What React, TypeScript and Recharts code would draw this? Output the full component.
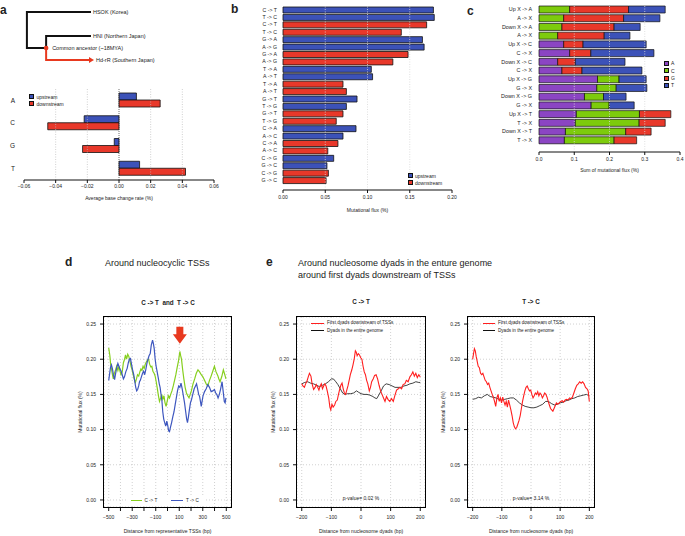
import React from "react";
import {
  Bar,
  BarChart,
  CartesianGrid,
  Cell,
  Line,
  LineChart,
  ReferenceDot,
  ReferenceLine,
  Scatter,
  ScatterChart,
  XAxis,
  YAxis,
} from "recharts";

const FONT = '"Liberation Sans", Arial, Helvetica, sans-serif';
const INK = "#222";
const BLUE = "#3c52b8";
const RED = "#e8382a";
const GREEN = "#7dcb0c";
const PURPLE = "#8b45c3";
const LINE_GREEN = "#86cf1e";
const LINE_BLUE = "#3e57bf";
const LINE_RED = "#ff1f1f";
const GRID = "#bdbdbd";

// panel a: tree (depth from root, row = taxon)
const TREE_MAIN = [
  { depth: 1, row: 0 },
  { depth: 0, row: 0 },
  { depth: 0, row: 1.5 },
  { depth: 0.3, row: 1.5 },
  { depth: 0.3, row: 1 },
  { depth: 1, row: 1 },
];
const TREE_RED = [
  { depth: 0.3, row: 1.5 },
  { depth: 0.3, row: 2 },
  { depth: 1, row: 2 },
];
const TREE_TIPS = [
  { depth: 1, row: 0, name: "HSOK (Korea)" },
  { depth: 1, row: 1, name: "HNI (Northern Japan)" },
];
const TREE_RED_TIP = [{ depth: 1, row: 2, name: "Hd-rR (Southern Japan)" }];
const TREE_ANCESTOR = [{ depth: 0.3, row: 1.5, name: "Common ancestor (~18MYA)" }];

// panel a: average base change
const BASES = ["A", "C", "G", "T"];
const BASE_UP = [0.011, -0.022, -0.003, 0.013];
const BASE_DOWN = [0.026, -0.045, -0.023, 0.042];
const BASE_TICKS = [-0.06, -0.04, -0.02, 0, 0.02, 0.04, 0.06];
const BASE_TICK_LABELS = ["\u22120.06", "\u22120.04", "\u22120.02", "0.00", "0.02", "0.04", "0.06"];

// panel b: mutational flux
const FLUX_LABELS = [
  "C -> T", "T -> C", "C -> T", "T -> C",
  "G -> A", "A -> G", "G -> A", "A -> G",
  "T -> A", "A -> T", "T -> A", "A -> T",
  "G -> T", "T -> G", "G -> T", "T -> G",
  "C -> A", "A -> C", "C -> A", "A -> C",
  "C -> G", "G -> C", "C -> G", "G -> C",
];
const FLUX_VALUES = [
  0.178, 0.179, 0.17, 0.14,
  0.165, 0.167, 0.148, 0.13,
  0.1045, 0.106, 0.071, 0.075,
  0.0876, 0.075, 0.071, 0.063,
  0.0864, 0.071, 0.065, 0.053,
  0.06, 0.052, 0.0537, 0.051,
];
const FLUX_STREAM = ["up", "up", "down", "down"];
const FLUX_TICKS = [0, 0.05, 0.1, 0.15, 0.2];
const FLUX_TICK_LABELS = ["0.00", "0.05", "0.10", "0.15", "0.20"];

// panel c: sum of mutational flux
const SUM_LABELS = [
  "Up X -> A", "A -> X", "Down X -> A", "A -> X",
  "Up X -> C", "C -> X", "Down X -> C", "C -> X",
  "Up X -> G", "G -> X", "Down X -> G", "G -> X",
  "Up X -> T", "T -> X", "Down X -> T", "T -> X",
];
const SUM_A = [0, 0, 0, 0, 0.07, 0.087, 0.053, 0.065, 0.166, 0.164, 0.129, 0.148, 0.106, 0.103, 0.075, 0.072];
const SUM_C = [0.087, 0.07, 0.065, 0.053, 0, 0, 0, 0, 0.061, 0.055, 0.054, 0.051, 0.179, 0.181, 0.171, 0.141];
const SUM_G = [0.167, 0.17, 0.148, 0.132, 0.055, 0.06, 0.05, 0.057, 0, 0, 0, 0, 0.089, 0.074, 0.072, 0.064];
const SUM_T = [0.104, 0.103, 0.074, 0.073, 0.179, 0.179, 0.141, 0.17, 0.077, 0.087, 0.064, 0.071, 0, 0, 0, 0];
const SUM_TICKS = [0, 0.1, 0.2, 0.3, 0.4];
const SUM_TICK_LABELS = ["0.0", "0.1", "0.2", "0.3", "0.4"];

// panels d, e: shared y axis
const FLUX_Y_TICKS = [0, 0.05, 0.1, 0.15, 0.2, 0.25];
const FLUX_Y_LABELS = ["0.00", "0.05", "0.10", "0.15", "0.20", "0.25"];
const FLUX_Y_DOMAIN = [-0.01, 0.26];

// panel d: around nucleocyclic TSSs
const D_X_TICKS = [-500, -400, -300, -200, -100, 0, 100, 200, 300, 400, 500];
const D_X_LABELS = ["\u2212500", "", "\u2212300", "", "\u2212100", "", "100", "", "300", "", "500"];
const D_C_TO_T: [number, number][] = [
  [-500, 0.216], [-490, 0.205], [-483, 0.192], [-475, 0.185], [-468, 0.178], [-461, 0.172],
  [-452, 0.18], [-441, 0.185], [-432, 0.19], [-422, 0.184], [-413, 0.19], [-404, 0.183],
  [-395, 0.178], [-385, 0.182], [-375, 0.195], [-365, 0.2], [-357, 0.206], [-348, 0.2],
  [-338, 0.207], [-329, 0.204], [-320, 0.198], [-310, 0.19], [-301, 0.185], [-292, 0.178],
  [-283, 0.172], [-273, 0.167], [-264, 0.172], [-255, 0.178], [-245, 0.176], [-235, 0.182],
  [-226, 0.186], [-217, 0.184], [-208, 0.19], [-198, 0.187], [-189, 0.193], [-180, 0.196],
  [-170, 0.199], [-161, 0.2], [-152, 0.193], [-142, 0.189], [-133, 0.19], [-124, 0.183],
  [-114, 0.18], [-105, 0.176], [-96, 0.168], [-86, 0.158], [-77, 0.148], [-68, 0.14],
  [-58, 0.145], [-49, 0.15], [-40, 0.143], [-30, 0.148], [-21, 0.138], [-12, 0.133],
  [-3, 0.14], [7, 0.148], [17, 0.145], [27, 0.15], [38, 0.155], [49, 0.162], [60, 0.17],
  [71, 0.178], [82, 0.188], [94, 0.198], [105, 0.211], [112, 0.205], [119, 0.2], [129, 0.185],
  [139, 0.172], [150, 0.16], [161, 0.152], [172, 0.148], [183, 0.145], [193, 0.15], [203, 0.155],
  [217, 0.165], [231, 0.172], [245, 0.18], [259, 0.185], [273, 0.182], [287, 0.178], [301, 0.175],
  [315, 0.17], [329, 0.165], [343, 0.162], [357, 0.17], [371, 0.176], [385, 0.183], [399, 0.19],
  [413, 0.182], [427, 0.177], [437, 0.172], [447, 0.168], [461, 0.175], [475, 0.185], [487, 0.178],
  [497, 0.172],
];
const D_T_TO_C: [number, number][] = [
  [-500, 0.17], [-493, 0.178], [-485, 0.188], [-477, 0.192], [-469, 0.187], [-460, 0.178],
  [-450, 0.171], [-441, 0.18], [-432, 0.188], [-422, 0.194], [-413, 0.19], [-404, 0.186],
  [-394, 0.183], [-385, 0.178], [-375, 0.172], [-366, 0.175], [-355, 0.182], [-343, 0.187],
  [-333, 0.195], [-324, 0.2], [-315, 0.201], [-306, 0.193], [-297, 0.185], [-287, 0.178],
  [-278, 0.168], [-270, 0.16], [-262, 0.155], [-254, 0.157], [-245, 0.162], [-238, 0.168],
  [-231, 0.17], [-222, 0.175], [-212, 0.18], [-203, 0.183], [-194, 0.178], [-185, 0.185],
  [-175, 0.194], [-166, 0.2], [-157, 0.205], [-147, 0.208], [-138, 0.22], [-127, 0.227],
  [-120, 0.222], [-113, 0.215], [-105, 0.2], [-97, 0.19], [-91, 0.185], [-80, 0.175],
  [-70, 0.165], [-63, 0.16], [-55, 0.15], [-47, 0.14], [-40, 0.125], [-32, 0.115],
  [-24, 0.11], [-15, 0.105], [-6, 0.112], [3, 0.105], [10, 0.098], [17, 0.097], [25, 0.103],
  [35, 0.11], [45, 0.118], [55, 0.125], [65, 0.135], [75, 0.145], [85, 0.155], [95, 0.162],
  [105, 0.16], [115, 0.166], [125, 0.158], [135, 0.148], [145, 0.138], [155, 0.125], [163, 0.115],
  [170, 0.11], [178, 0.118], [186, 0.128], [195, 0.138], [203, 0.142], [215, 0.15], [227, 0.158],
  [238, 0.162], [247, 0.165], [256, 0.158], [265, 0.15], [273, 0.147], [280, 0.14], [287, 0.133],
  [294, 0.14], [302, 0.148], [315, 0.154], [329, 0.158], [343, 0.164], [357, 0.16], [371, 0.154],
  [385, 0.155], [399, 0.157], [410, 0.152], [419, 0.15], [430, 0.145], [441, 0.15], [452, 0.158],
  [464, 0.168], [473, 0.155], [483, 0.14], [490, 0.138], [497, 0.145],
];

// panel e: around nucleosome dyads
const E_X_TICKS = [-200, -100, 0, 100, 200];
const E_X_LABELS = ["\u2212200", "\u2212100", "0", "100", "200"];
const E_CT_FIRST: [number, number][] = [
  [-200, 0.165], [-196, 0.162], [-191, 0.16], [-187, 0.165], [-183, 0.168], [-178, 0.175],
  [-174, 0.18], [-169, 0.176], [-165, 0.165], [-160, 0.157], [-155, 0.16], [-151, 0.164],
  [-146, 0.16], [-142, 0.156], [-138, 0.162], [-134, 0.165], [-130, 0.158], [-126, 0.162],
  [-122, 0.165], [-118, 0.162], [-114, 0.155], [-109, 0.145], [-105, 0.132], [-102, 0.128],
  [-98, 0.136], [-94, 0.132], [-89, 0.135], [-85, 0.14], [-80, 0.142], [-76, 0.15],
  [-72, 0.157], [-68, 0.163], [-64, 0.166], [-60, 0.158], [-56, 0.152], [-52, 0.15],
  [-48, 0.156], [-44, 0.162], [-40, 0.17], [-36, 0.178], [-31, 0.185], [-27, 0.192],
  [-23, 0.2], [-19, 0.212], [-16, 0.21], [-13, 0.205], [-9, 0.208], [-5, 0.206], [-1, 0.202],
  [3, 0.2], [7, 0.19], [11, 0.182], [15, 0.178], [19, 0.17], [23, 0.165], [28, 0.155],
  [32, 0.16], [36, 0.168], [41, 0.172], [46, 0.177], [51, 0.178], [56, 0.172], [61, 0.163],
  [66, 0.155], [71, 0.15], [76, 0.145], [81, 0.14], [86, 0.147], [91, 0.143], [97, 0.14],
  [103, 0.144], [109, 0.14], [114, 0.148], [120, 0.156], [126, 0.158], [131, 0.16], [137, 0.158],
  [142, 0.164], [148, 0.165], [153, 0.17], [159, 0.168], [165, 0.175], [170, 0.178], [175, 0.182],
  [180, 0.176], [185, 0.18], [190, 0.174], [195, 0.178], [200, 0.175],
];
const E_CT_GENOME: [number, number][] = [
  [-200, 0.165], [-190, 0.167], [-180, 0.168], [-170, 0.166], [-160, 0.165], [-150, 0.163],
  [-140, 0.161], [-130, 0.163], [-120, 0.165], [-110, 0.168], [-100, 0.172], [-93, 0.172],
  [-85, 0.168], [-78, 0.164], [-70, 0.158], [-62, 0.152], [-55, 0.15], [-45, 0.151],
  [-35, 0.151], [-25, 0.152], [-15, 0.155], [-8, 0.153], [0, 0.151], [10, 0.15], [20, 0.15],
  [30, 0.149], [40, 0.147], [47, 0.145], [53, 0.144], [60, 0.149], [68, 0.155], [76, 0.162],
  [85, 0.165], [95, 0.164], [105, 0.162], [115, 0.16], [125, 0.16], [135, 0.16], [145, 0.162],
  [155, 0.163], [165, 0.165], [175, 0.166], [185, 0.168], [195, 0.167], [200, 0.167],
];
const E_TC_FIRST: [number, number][] = [
  [-200, 0.2], [-197, 0.208], [-194, 0.215], [-191, 0.212], [-188, 0.204], [-185, 0.198],
  [-181, 0.19], [-177, 0.188], [-173, 0.18], [-169, 0.178], [-165, 0.18], [-161, 0.175],
  [-157, 0.17], [-153, 0.168], [-149, 0.164], [-145, 0.166], [-141, 0.16], [-137, 0.155],
  [-133, 0.15], [-129, 0.146], [-125, 0.14], [-121, 0.133], [-117, 0.145], [-113, 0.15],
  [-109, 0.14], [-105, 0.145], [-101, 0.138], [-97, 0.146], [-93, 0.14], [-89, 0.135],
  [-85, 0.14], [-81, 0.132], [-77, 0.142], [-73, 0.135], [-69, 0.128], [-65, 0.12],
  [-61, 0.11], [-57, 0.104], [-53, 0.101], [-49, 0.103], [-45, 0.108], [-41, 0.113],
  [-37, 0.12], [-33, 0.13], [-29, 0.14], [-25, 0.148], [-21, 0.155], [-17, 0.16], [-13, 0.162],
  [-9, 0.158], [-5, 0.155], [-1, 0.156], [3, 0.15], [7, 0.145], [11, 0.148], [15, 0.152],
  [19, 0.15], [23, 0.154], [27, 0.148], [31, 0.152], [35, 0.15], [39, 0.145], [43, 0.148],
  [47, 0.152], [51, 0.15], [55, 0.146], [59, 0.14], [63, 0.135], [67, 0.13], [71, 0.128],
  [75, 0.126], [79, 0.13], [83, 0.134], [87, 0.138], [92, 0.136], [97, 0.138], [102, 0.14],
  [107, 0.141], [112, 0.139], [117, 0.142], [122, 0.143], [127, 0.142], [132, 0.145],
  [137, 0.144], [142, 0.146], [147, 0.152], [152, 0.158], [157, 0.163], [162, 0.165],
  [167, 0.168], [172, 0.166], [177, 0.168], [182, 0.165], [187, 0.16], [192, 0.158],
  [196, 0.155], [200, 0.14],
];
const E_TC_GENOME: [number, number][] = [
  [-200, 0.143], [-190, 0.144], [-180, 0.146], [-170, 0.145], [-160, 0.148], [-150, 0.15],
  [-140, 0.147], [-130, 0.146], [-120, 0.145], [-110, 0.143], [-100, 0.142], [-90, 0.143],
  [-80, 0.144], [-70, 0.145], [-60, 0.145], [-50, 0.142], [-40, 0.138], [-30, 0.135],
  [-20, 0.133], [-10, 0.132], [0, 0.131], [10, 0.131], [20, 0.132], [30, 0.134], [40, 0.136],
  [50, 0.14], [60, 0.14], [70, 0.137], [80, 0.135], [90, 0.136], [100, 0.138], [110, 0.139],
  [120, 0.141], [130, 0.142], [140, 0.144], [150, 0.145], [160, 0.147], [170, 0.148],
  [180, 0.149], [190, 0.15], [200, 0.148],
];

const tickStyle = { fontSize: 5, fill: INK };
const pick = (ticks: number[], labels: string[]) => (v: number) => labels[ticks.indexOf(v)] ?? "";

function Txt({ x, y, size = 5, anchor = "start", weight = 400, children }: any) {
  const shift = anchor === "middle" ? "-50%" : anchor === "end" ? "-100%" : "0";
  return (
    <div
      style={{
        position: "absolute",
        left: x,
        top: y,
        transform: `translate(${shift}, -50%)`,
        fontSize: size,
        lineHeight: 1,
        fontWeight: weight,
        whiteSpace: "nowrap",
        color: INK,
      }}
    >
      {children}
    </div>
  );
}

function Swatch({ x, y, color, label, size = 5 }: any) {
  return (
    <>
      <div
        style={{
          position: "absolute",
          left: x - 2.5,
          top: y - 2.5,
          width: 5,
          height: 5,
          boxSizing: "border-box",
          background: color,
          border: "0.8px solid #111",
        }}
      />
      <Txt x={x + 5} y={y} size={size}>{label}</Txt>
    </>
  );
}

function LineKey({ x, y, color, label, len = 12 }: any) {
  return (
    <>
      <div style={{ position: "absolute", left: x, top: y - 0.5, width: len, height: 1, background: color }} />
      <Txt x={x + len + 3} y={y} size={4.6}>{label}</Txt>
    </>
  );
}

const categoryTick = (labels: string[], x: number, size: number) => (props: any) => (
  <text x={x} y={props.y} dy="0.35em" textAnchor="end" fontSize={size} fill={INK}>
    {labels[props.payload.value]}
  </text>
);

function Tree() {
  const none = () => <g />;
  return (
    <div style={{ position: "absolute", left: 0, top: 0, width: 230, height: 75 }}>
      <ScatterChart width={230} height={75} margin={{ top: 0, right: 0, bottom: 0, left: 0 }}>
        <XAxis type="number" dataKey="depth" domain={[-0.42, 3.17]} hide />
        <YAxis type="number" dataKey="row" domain={[-0.5, 2.625]} reversed hide />
        <Scatter data={TREE_MAIN} line={{ stroke: "#111", strokeWidth: 2 }} lineType="joint" shape={none} isAnimationActive={false} />
        <Scatter data={TREE_RED} line={{ stroke: "#e8391f", strokeWidth: 2 }} lineType="joint" shape={none} isAnimationActive={false} />
        <Scatter
          data={TREE_RED_TIP}
          isAnimationActive={false}
          shape={(p: any) => (
            <g>
              <polygon points={`${p.cx - 2},${p.cy - 3} ${p.cx + 3},${p.cy} ${p.cx - 2},${p.cy + 3}`} fill="#e8391f" />
              <text x={p.cx + 5} y={p.cy} dy="0.35em" fontSize={5.5} fill={INK}>{p.payload.name}</text>
            </g>
          )}
        />
        <Scatter
          data={TREE_TIPS}
          isAnimationActive={false}
          shape={(p: any) => (
            <text x={p.cx + 2} y={p.cy} dy="0.35em" fontSize={5.5} fill={INK}>{p.payload.name}</text>
          )}
        />
        <Scatter
          data={TREE_ANCESTOR}
          isAnimationActive={false}
          shape={(p: any) => (
            <g>
              <circle cx={p.cx} cy={p.cy} r={2.3} fill="#e8391f" />
              <text x={p.cx + 6} y={p.cy} dy="0.35em" fontSize={5.5} fill={INK}>{p.payload.name}</text>
            </g>
          )}
        />
      </ScatterChart>
    </div>
  );
}

function BaseChange() {
  const data = BASES.map((b, i) => ({ i, up: BASE_UP[i], down: BASE_DOWN[i] }));
  return (
    <div style={{ position: "absolute", left: 0, top: 80, width: 230, height: 125 }}>
      <BarChart layout="vertical" width={230} height={125} data={data} margin={{ top: 9, right: 16, bottom: 5, left: 0 }} barGap={0}>
        <XAxis
          type="number"
          domain={[-0.06, 0.06]}
          ticks={BASE_TICKS}
          interval={0}
          tickFormatter={pick(BASE_TICKS, BASE_TICK_LABELS)}
          tick={tickStyle}
          stroke="#111"
          tickSize={3}
          tickMargin={1}
          height={20}
          label={{ value: "Average base change rate (%)", position: "insideBottom", offset: 0, style: { fontSize: 5, fill: INK } }}
        />
        <YAxis type="category" dataKey="i" width={24} axisLine={false} tickLine={false} interval={0} tick={categoryTick(BASES, 15, 6.5)} />
        {[-0.04, -0.02, 0.02, 0.04].map((v) => (
          <ReferenceLine key={v} x={v} stroke={GRID} strokeDasharray="1 1.5" strokeWidth={0.7} />
        ))}
        <ReferenceLine x={0} stroke="#333" strokeDasharray="1 1" strokeWidth={0.7} />
        <Bar dataKey="up" fill={BLUE} stroke="#111" strokeWidth={0.8} barSize={7} isAnimationActive={false} />
        <Bar dataKey="down" fill={RED} stroke="#111" strokeWidth={0.8} barSize={7} isAnimationActive={false} />
      </BarChart>
    </div>
  );
}

function FluxBars() {
  const data = FLUX_LABELS.map((label, i) => ({ i, value: FLUX_VALUES[i], stream: FLUX_STREAM[i % 4] }));
  return (
    <div style={{ position: "absolute", left: 232, top: 0, width: 230, height: 215 }}>
      <BarChart layout="vertical" width={230} height={215} data={data} margin={{ top: 6, right: 10, bottom: 3, left: 0 }}>
        <XAxis
          type="number"
          domain={[0, 0.2]}
          ticks={FLUX_TICKS}
          interval={0}
          tickFormatter={pick(FLUX_TICKS, FLUX_TICK_LABELS)}
          tick={tickStyle}
          stroke="#111"
          tickSize={3}
          tickMargin={2}
          height={22}
          label={{ value: "Mutational flux (%)", position: "insideBottom", offset: 0, style: { fontSize: 5, fill: INK } }}
        />
        <YAxis
          type="category"
          dataKey="i"
          width={51}
          padding={{ top: 0, bottom: 6 }}
          axisLine={false}
          tickLine={false}
          interval={0}
          tick={categoryTick(FLUX_LABELS, 45, 5.2)}
        />
        <Bar dataKey="value" barSize={6} stroke="#111" strokeWidth={0.8} isAnimationActive={false}>
          {data.map((d) => (
            <Cell key={d.i} fill={d.stream === "up" ? BLUE : RED} />
          ))}
        </Bar>
        {[0.05, 0.1, 0.15].map((v) => (
          <ReferenceLine key={v} x={v} stroke="#d8d8d8" strokeDasharray="1 1.5" strokeWidth={0.8} />
        ))}
      </BarChart>
    </div>
  );
}

function SumBars() {
  const data = SUM_LABELS.map((label, i) => ({ i, A: SUM_A[i], C: SUM_C[i], G: SUM_G[i], T: SUM_T[i] }));
  const parts = [
    { key: "A", color: PURPLE },
    { key: "C", color: GREEN },
    { key: "G", color: RED },
    { key: "T", color: BLUE },
  ];
  return (
    <div style={{ position: "absolute", left: 462, top: 0, width: 223, height: 175 }}>
      <BarChart layout="vertical" width={223} height={175} data={data} margin={{ top: 5, right: 5, bottom: 3, left: 0 }}>
        <XAxis
          type="number"
          domain={[0, 0.4]}
          ticks={SUM_TICKS}
          interval={0}
          tickFormatter={pick(SUM_TICKS, SUM_TICK_LABELS)}
          tick={tickStyle}
          stroke="#111"
          tickSize={3}
          tickMargin={2}
          height={20}
          label={{ value: "Sum of mutational flux (%)", position: "insideBottom", offset: 0, style: { fontSize: 5, fill: INK } }}
        />
        <YAxis
          type="category"
          dataKey="i"
          width={77}
          padding={{ top: 0, bottom: 7.5 }}
          axisLine={false}
          tickLine={false}
          interval={0}
          tick={categoryTick(SUM_LABELS, 70, 5.4)}
        />
        {parts.map((p) => (
          <Bar key={p.key} dataKey={p.key} stackId="sum" fill={p.color} stroke="#111" strokeWidth={0.7} barSize={7} isAnimationActive={false} />
        ))}
        {[0.1, 0.2, 0.3].map((v) => (
          <ReferenceLine key={v} x={v} stroke="#d8d8d8" strokeDasharray="1 1.5" strokeWidth={0.8} />
        ))}
      </BarChart>
    </div>
  );
}

type Trace = { data: [number, number][]; color: string; width: number };

function TracePanel({ left, width, axisWidth, right, titleOffset, xDomain, xTicks, xLabels, xTitle, series, extra }: any) {
  return (
    <div style={{ position: "absolute", left, top: 310, width, height: 226 }}>
      <LineChart width={width} height={226} margin={{ top: 7, right, bottom: 3, left: 0 }}>
        <CartesianGrid stroke={GRID} strokeDasharray="1 2" strokeWidth={0.7} />
        <XAxis
          type="number"
          dataKey="x"
          domain={xDomain}
          ticks={xTicks}
          interval={0}
          tickFormatter={pick(xTicks, xLabels)}
          tick={tickStyle}
          axisLine={false}
          tickLine={{ stroke: "#111" }}
          tickSize={4}
          tickMargin={4}
          height={26}
          label={{ value: xTitle, position: "insideBottom", offset: 0, style: { fontSize: 5, fill: INK } }}
        />
        <YAxis
          type="number"
          domain={FLUX_Y_DOMAIN}
          ticks={FLUX_Y_TICKS}
          interval={0}
          tickFormatter={pick(FLUX_Y_TICKS, FLUX_Y_LABELS)}
          tick={tickStyle}
          axisLine={false}
          tickLine={{ stroke: "#111" }}
          tickSize={4}
          tickMargin={4}
          width={axisWidth}
          label={{
            value: "Mutational flux (%)",
            angle: -90,
            position: "insideLeft",
            offset: titleOffset,
            style: { fontSize: 5, fill: INK, textAnchor: "middle" },
          }}
        />
        {series.map((s: Trace, i: number) => (
          <Line
            key={i}
            data={s.data.map(([x, y]) => ({ x, y }))}
            dataKey="y"
            type="linear"
            stroke={s.color}
            strokeWidth={s.width}
            dot={false}
            isAnimationActive={false}
          />
        ))}
        {extra}
      </LineChart>
      {/* R-style box round the plot region */}
      <div
        style={{
          position: "absolute",
          left: axisWidth - 0.75,
          top: 6.25,
          width: width - axisWidth - right + 1.5,
          height: 191.5,
          boxSizing: "border-box",
          border: "1.5px solid #000",
        }}
      />
    </div>
  );
}

export default function App() {
  return (
    <div
      style={{
        position: "absolute",
        left: 0,
        top: 0,
        width: 685,
        height: 536,
        background: "#fff",
        fontFamily: FONT,
        overflow: "hidden",
      }}
    >
      <Txt x={0} y={10} size={12} weight={700}>a</Txt>
      <Txt x={231} y={8.5} size={12} weight={700}>b</Txt>
      <Txt x={467} y={10.5} size={12} weight={700}>c</Txt>
      <Txt x={65} y={261.5} size={12} weight={700}>d</Txt>
      <Txt x={266} y={262} size={12} weight={700}>e</Txt>

      <Tree />
      <BaseChange />
      <Swatch x={31.5} y={96.5} color={BLUE} label="upstream" />
      <Swatch x={31.5} y={103.5} color={RED} label="downstream" />

      <FluxBars />
      <Swatch x={410} y={175.7} color={BLUE} label="upstream" />
      <Swatch x={410} y={182.7} color={RED} label="downstream" />

      <SumBars />
      <Swatch x={666} y={63.3} color={PURPLE} label="A" />
      <Swatch x={666} y={70.7} color={GREEN} label="C" />
      <Swatch x={666} y={78} color={RED} label="G" />
      <Swatch x={666} y={85.3} color={BLUE} label="T" />

      <Txt x={105} y={262.5} size={9}>Around nucleocyclic TSSs</Txt>
      <Txt x={168} y={303} size={6.3} weight={700} anchor="middle">C -&gt; T&nbsp; and&nbsp; T -&gt; C</Txt>
      <TracePanel
        left={60}
        width={180}
        axisWidth={44}
        right={9}
        titleOffset={20}
        xDomain={[-540, 540]}
        xTicks={D_X_TICKS}
        xLabels={D_X_LABELS}
        xTitle="Distance from representative TSSs (bp)"
        series={[
          { data: D_C_TO_T, color: LINE_GREEN, width: 1.2 },
          { data: D_T_TO_C, color: LINE_BLUE, width: 1.2 },
        ]}
        extra={
          <ReferenceDot
            x={105}
            y={0.234}
            ifOverflow="visible"
            shape={(p: any) => (
              <polygon
                points={`${p.cx - 3.5},${p.cy - 8.5} ${p.cx + 3.5},${p.cy - 8.5} ${p.cx + 3.5},${p.cy - 1} ${p.cx + 7},${p.cy - 1} ${p.cx},${p.cy + 8.5} ${p.cx - 7},${p.cy - 1} ${p.cx - 3.5},${p.cy - 1}`}
                fill="#e8391f"
              />
            )}
          />
        }
      />
      <div style={{ position: "absolute", left: 128, top: 497, width: 76, height: 7, background: "#fff" }} />
      <LineKey x={130.5} y={500.5} color={LINE_GREEN} label="C -> T" len={11} />
      <LineKey x={171} y={500.5} color={LINE_BLUE} label="T -> C" len={12} />

      <Txt x={298} y={262.5} size={9}>Around nucleosome dyads in the enture genome</Txt>
      <Txt x={298} y={274.5} size={9}>around first dyads downstream of TSSs</Txt>

      <Txt x={361} y={302} size={6.3} weight={700} anchor="middle">C -&gt; T</Txt>
      <TracePanel
        left={262}
        width={170}
        axisWidth={35}
        right={7}
        titleOffset={11}
        xDomain={[-216, 216]}
        xTicks={E_X_TICKS}
        xLabels={E_X_LABELS}
        xTitle="Distance from nucleosome dyads (bp)"
        series={[
          { data: E_CT_GENOME, color: "#111", width: 0.8 },
          { data: E_CT_FIRST, color: LINE_RED, width: 1.1 },
        ]}
      />
      <LineKey x={311} y={323.3} color={LINE_RED} label="First dyads downstream of TSSs" len={13} />
      <LineKey x={311} y={330.7} color="#111" label="Dyads in the entire genome" len={13} />
      <Txt x={361} y={498} size={5} anchor="middle">p-value= 0.02 %</Txt>

      <Txt x={531} y={302} size={6.3} weight={700} anchor="middle">T -&gt; C</Txt>
      <TracePanel
        left={433}
        width={170}
        axisWidth={35}
        right={9}
        titleOffset={10}
        xDomain={[-216, 216]}
        xTicks={E_X_TICKS}
        xLabels={E_X_LABELS}
        xTitle="Distance from nucleosome dyads (bp)"
        series={[
          { data: E_TC_GENOME, color: "#111", width: 0.8 },
          { data: E_TC_FIRST, color: LINE_RED, width: 1.1 },
        ]}
      />
      <LineKey x={483} y={323.3} color={LINE_RED} label="First dyads downstream of TSSs" len={12} />
      <LineKey x={483} y={330.7} color="#111" label="Dyads in the entire genome" len={12} />
      <Txt x={531} y={498} size={5} anchor="middle">p-value= 3.14 %</Txt>
    </div>
  );
}
